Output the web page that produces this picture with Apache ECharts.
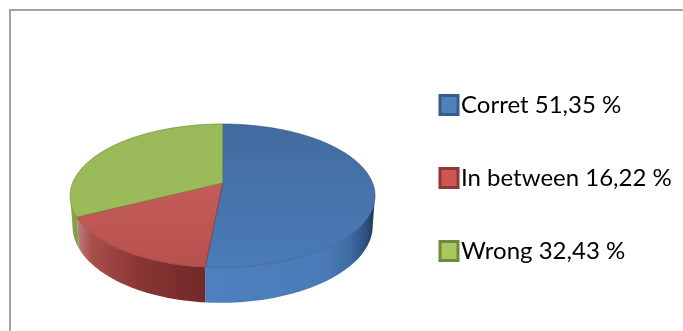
<!DOCTYPE html>
<html>
<head>
<meta charset="utf-8">
<style>html,body{margin:0;padding:0;background:#fff}#c{width:683px;height:331px}</style>
<script src="https://cdn.jsdelivr.net/npm/echarts@6/dist/echarts.min.js"></script>
</head>
<body>
<div id="c"></div>
<script>
const categories = ['Corret', 'In between', 'Wrong'];
const values = [51.35, 16.22, 32.43];
const valueLabels = ['51,35 %', '16,22 %', '32,43 %'];

const legendNames = categories.map((c, i) => c + ' ' + valueLabels[i]);
const total = values.reduce((a, b) => a + b, 0);

// Projection of the tilted disc: a perspective view of a unit circle
const CX = 222.6, CY = 183, A = 150, B = 69.5, K = 0.178, DEPTH = 29, BOTTOM_X = 0.985, FRONT_SKEW = 2;
function proj(theta, drop) {
  const u = Math.sin(theta), v = -Math.cos(theta), w = 1 - K * v;
  const f = drop ? BOTTOM_X : 1;
  const skew = v > 0 ? FRONT_SKEW * v * v * v : 0;
  return [CX + f * A * u / w - skew, CY + B * v / w + (drop ? DEPTH / w : 0)];
}
function arc(a0, a1, drop) {
  const pts = [], n = Math.max(2, Math.ceil(Math.abs(a1 - a0) / (Math.PI / 240)));
  for (let i = 0; i <= n; i++) pts.push(proj(a0 + (a1 - a0) * i / n, drop));
  return pts;
}
function hGrad(x, x2, stops) {
  return { type: 'linear', global: true, x: x, y: 0, x2: x2, y2: 0,
    colorStops: stops.map(s => ({ offset: s[0], color: s[1] })) };
}
function vGrad(y, y2, c0, c1) {
  return { type: 'linear', global: true, x: 0, y: y, x2: 0, y2: y2,
    colorStops: [{ offset: 0, color: c0 }, { offset: 1, color: c1 }] };
}
const topFill = [
  vGrad(124, 268, '#426ca0', '#4a7bb8'),
  vGrad(183, 268, '#c45d59', '#b8504d'),
  vGrad(124, 214, '#9ab958', '#9bbb59')
];
const topEdge = ['rgba(45,80,125,0.75)', 'rgba(140,50,48,0.8)', 'rgba(110,140,60,0.85)'];
const sideFill = [
  hGrad(205, 375, [[0, '#4d80c0'], [0.7, '#4a7bb8'], [0.85, '#3f6ca4'], [0.95, '#2d4f7c'], [1, '#1d3553']]),
  hGrad(76, 205, [[0, '#c08482'], [0.12, '#a84f4c'], [0.45, '#8c3835'], [0.85, '#772c2a'], [1, '#702a28']]),
  hGrad(70, 79, [[0, '#8aa84e'], [1, '#7f9c45']])
];
// Only the part of the wall that faces the viewer (silhouette at v = K)
const wallBack = Math.acos(K);
function sideRange(a0, a1) {
  const lo = Math.max(a0, Math.PI - wallBack);
  const hi = Math.min(a1, Math.PI + wallBack);
  return hi > lo ? [lo, hi] : null;
}

function sliceSeries(idx) {
  const before = values.slice(0, idx).reduce((a, b) => a + b, 0);
  return {
    type: 'custom',
    name: legendNames[idx],
    coordinateSystem: 'none',
    silent: true,
    animation: false,
    itemStyle: { color: ['#4f81bd', '#c0504d', '#9bbb59'][idx] },
    data: [[values[idx]]],
    renderItem: function (params, api) {
      const a0 = before / total * 2 * Math.PI;
      const a1 = a0 + api.value(0) / total * 2 * Math.PI;
      const children = [];
      const r = sideRange(a0, a1);
      if (r) {
        const t = arc(r[0], r[1], false), b = arc(r[1], r[0], true);
        children.push({ type: 'polygon', shape: { points: t.concat(b) },
          style: { fill: sideFill[idx], stroke: null } });
      }
      const pts = [[CX, CY]].concat(arc(a0, a1, false));
      children.push({ type: 'polygon', shape: { points: pts },
        style: { fill: topFill[idx], stroke: topEdge[idx], lineWidth: 0.8 } });
      return { type: 'group', children: children };
    }
  };
}

const chart = echarts.init(document.getElementById('c'), null, { renderer: 'canvas' });
const legendStyles = [
  { color: '#4f81bd', borderColor: '#385d8a' },
  { color: '#cf5753', borderColor: '#8c3836' },
  { color: '#a9c75f', borderColor: '#71893f' }
];
chart.setOption({
  animation: false,
  backgroundColor: '#ffffff',
  graphic: [{
    type: 'rect', silent: true,
    shape: { x: 10, y: 10, width: 900, height: 500 },
    style: { fill: 'none', stroke: '#a3a3a3', lineWidth: 2 }
  }],
  legend: {
    orient: 'vertical',
    left: 438.5,
    top: 93,
    icon: 'rect',
    itemWidth: 18,
    itemHeight: 19,
    itemGap: 49,
    padding: 0,
    selectedMode: false,
    textStyle: { fontFamily: 'Lato', fontSize: 24, color: '#000000', padding: [0, 0, 0, -2] },
    data: legendNames.map((n, i) => ({
      name: n,
      itemStyle: { color: legendStyles[i].color, borderColor: legendStyles[i].borderColor, borderWidth: 3 }
    }))
  },
  series: categories.map((c, i) => sliceSeries(i))
});
</script>
</body>
</html>
